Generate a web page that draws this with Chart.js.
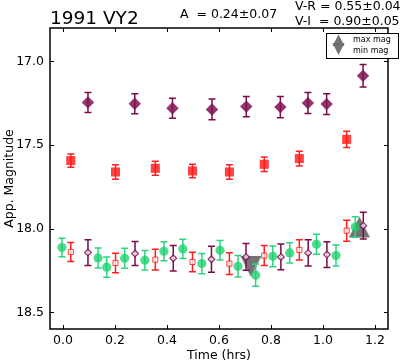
<!DOCTYPE html>
<html><head><meta charset="utf-8">
<script src="https://cdn.jsdelivr.net/npm/chart.js@4.4.0/dist/chart.umd.min.js"></script>
<style>html,body{margin:0;padding:0;background:#fff;overflow:hidden}#wrap{width:400px;height:362px;position:relative}</style>
</head><body><div id="wrap"><canvas id="c" width="400" height="362"></canvas></div>
<script>
const titleText = "1991 VY2";
const ampText = "A  = 0.24\u00b10.07";
const vrText = "V-R = 0.55\u00b10.04";
const viText = "V-I  = 0.90\u00b10.05";
const xLabel = "Time (hrs)";
const yLabel = "App. Magnitude";
const legendLabels = ["max mag", "min mag"];
const xTicks = [0.0, 0.2, 0.4, 0.6, 0.8, 1.0, 1.2];
const yTicks = [17.0, 17.5, 18.0, 18.5];

// I band (filled diamonds)
const iTime = [0.096, 0.276, 0.421, 0.573, 0.705, 0.836, 0.942, 1.014, 1.154];
const iMag  = [17.245, 17.253, 17.280, 17.287, 17.270, 17.273, 17.249, 17.255, 17.086];
const iErr  = [0.060, 0.060, 0.060, 0.062, 0.060, 0.063, 0.063, 0.062, 0.067];
// R band (filled squares)
const rTime = [0.030, 0.202, 0.355, 0.498, 0.640, 0.774, 0.909, 1.091];
const rMag  = [17.593, 17.661, 17.639, 17.655, 17.661, 17.615, 17.581, 17.466];
const rErr  = [0.040, 0.043, 0.042, 0.040, 0.043, 0.043, 0.044, 0.048];
// V band (green circles)
const vTime = [-0.004, 0.135, 0.168, 0.237, 0.315, 0.388, 0.461, 0.534, 0.604, 0.673, 0.741, 0.807, 0.872, 0.975, 1.050, 1.124];
const vMag  = [18.113, 18.175, 18.230, 18.177, 18.189, 18.135, 18.121, 18.209, 18.129, 18.225, 18.278, 18.165, 18.145, 18.093, 18.161, 17.990];
const vErr  = [0.055, 0.060, 0.060, 0.060, 0.058, 0.057, 0.057, 0.060, 0.058, 0.064, 0.067, 0.062, 0.061, 0.060, 0.063, 0.062];
// R shifted to V (open squares)
const rvMag = [18.139, 18.205, 18.185, 18.199, 18.209, 18.161, 18.127, 18.012];
const rvErr = [0.057, 0.058, 0.062, 0.058, 0.065, 0.060, 0.060, 0.063];
// I shifted to V (open diamonds)
const ivTime = [0.096, 0.277, 0.424, 0.571, 0.704, 0.838, 0.943, 1.015, 1.155];
const ivMag  = [18.143, 18.149, 18.177, 18.183, 18.169, 18.169, 18.145, 18.155, 17.982];
const ivErr  = [0.077, 0.072, 0.076, 0.078, 0.080, 0.077, 0.078, 0.077, 0.080];
// extremes
const maxTime = [1.140], maxMag = [17.990];
const minTime = [0.723], minMag = [18.226];

const FONT = "'DejaVu Sans', 'Liberation Sans', sans-serif";
const pts = (xs, ys) => xs.map((x, i) => ({x: x, y: ys[i]}));

function triCanvas(size, down, color) {
  const c = document.createElement('canvas');
  c.width = size + 2; c.height = size + 2;
  const g = c.getContext('2d');
  g.fillStyle = color;
  g.beginPath();
  if (!down) { g.moveTo(1, size + 1); g.lineTo(size / 2 + 1, 1); g.lineTo(size + 1, size + 1); }
  else { g.moveTo(1, 1); g.lineTo(size / 2 + 1, size + 1); g.lineTo(size + 1, 1); }
  g.closePath(); g.fill();
  return c;
}
const triGray = 'rgba(108,108,108,0.95)';
const upTri = triCanvas(21, false, triGray);
const downTri = triCanvas(21, true, triGray);

const purpleFill = 'rgba(128,18,82,0.85)', purpleLine = '#7a0c4a';
const redFill = 'rgba(255,25,25,0.82)', redLine = '#ff1f1f';
const greenFill = 'rgba(20,208,105,0.75)', greenLine = '#2fd47f';

const errorBars = {
  id: 'errorBars',
  beforeDatasetDraw(chart, args) {
    const ds = chart.data.datasets[args.index];
    if (!ds.errors) return;
    const xs = chart.scales.x, ys = chart.scales.y, ctx = chart.ctx;
    ctx.save();
    ctx.strokeStyle = ds.errColor; ctx.lineWidth = 1.5;
    ds.data.forEach((p, i) => {
      const px = xs.getPixelForValue(p.x);
      const y1 = ys.getPixelForValue(p.y - ds.errors[i]);
      const y2 = ys.getPixelForValue(p.y + ds.errors[i]);
      ctx.beginPath();
      ctx.moveTo(px, y1); ctx.lineTo(px, y2);
      ctx.moveTo(px - 3.5, y1); ctx.lineTo(px + 3.5, y1);
      ctx.moveTo(px - 3.5, y2); ctx.lineTo(px + 3.5, y2);
      ctx.stroke();
    });
    ctx.restore();
  }
};

const decor = {
  id: 'decor',
  afterDraw(chart) {
    const ctx = chart.ctx, a = chart.chartArea, xs = chart.scales.x, ys = chart.scales.y;
    ctx.save();
    ctx.strokeStyle = '#000'; ctx.lineWidth = 1.5;
    ctx.strokeRect(a.left, a.top, a.right - a.left, a.bottom - a.top);
    ctx.lineWidth = 1;
    ctx.beginPath();
    xTicks.forEach(v => {
      const px = Math.round(xs.getPixelForValue(v)) + 0.5;
      ctx.moveTo(px, a.bottom); ctx.lineTo(px, a.bottom - 4);
      ctx.moveTo(px, a.top); ctx.lineTo(px, a.top + 4);
    });
    yTicks.forEach(v => {
      const py = Math.round(ys.getPixelForValue(v)) + 0.5;
      ctx.moveTo(a.left, py); ctx.lineTo(a.left + 4, py);
      ctx.moveTo(a.right, py); ctx.lineTo(a.right - 4, py);
    });
    ctx.stroke();
    ctx.fillStyle = '#000';
    ctx.textBaseline = 'alphabetic';
    ctx.textAlign = 'left';
    ctx.font = '18.5px ' + FONT;
    ctx.fillText(titleText, 50, 23.5);
    ctx.font = '12.5px ' + FONT;
    ctx.fillText(ampText, 180, 18);
    ctx.fillText(vrText, 295, 10);
    ctx.fillText(viText, 295, 24.5);
    ctx.textAlign = 'center';
    ctx.fillText(xLabel, (a.left + a.right) / 2, 359);
    ctx.save();
    ctx.translate(12.5, (a.top + a.bottom) / 2);
    ctx.rotate(-Math.PI / 2);
    ctx.fillText(yLabel, 0, 0);
    ctx.restore();
    const lx = 326.5, ly = 33.5, lw = 72, lh = 25;
    ctx.fillStyle = '#fff';
    ctx.fillRect(lx, ly, lw, lh);
    ctx.strokeStyle = '#000'; ctx.lineWidth = 1;
    ctx.strokeRect(lx, ly, lw, lh);
    ctx.fillStyle = triGray;
    ctx.beginPath(); ctx.moveTo(332.5, 46); ctx.lineTo(338.5, 34.5); ctx.lineTo(344.5, 46); ctx.closePath(); ctx.fill();
    ctx.beginPath(); ctx.moveTo(332.5, 43); ctx.lineTo(338.5, 55); ctx.lineTo(344.5, 43); ctx.closePath(); ctx.fill();
    ctx.fillStyle = '#000';
    ctx.textAlign = 'left'; ctx.textBaseline = 'middle';
    ctx.font = '8px ' + FONT;
    ctx.fillText(legendLabels[0], 353, 40);
    ctx.fillText(legendLabels[1], 353, 51);
    ctx.restore();
  }
};

new Chart(document.getElementById('c'), {
  type: 'scatter',
  data: {
    datasets: [
      { label: 'I', data: pts(iTime, iMag), errors: iErr, errColor: purpleLine, order: 1,
        pointStyle: 'rectRot', pointRadius: 6.2, backgroundColor: purpleFill, borderColor: purpleFill, borderWidth: 0 },
      { label: 'R', data: pts(rTime, rMag), errors: rErr, errColor: redLine, order: 2,
        pointStyle: 'rect', pointRadius: 6.4, backgroundColor: redFill, borderColor: redFill, borderWidth: 0 },
      { label: 'I-V', data: pts(ivTime, ivMag), errors: ivErr, errColor: purpleLine, order: 3,
        pointStyle: 'rectRot', pointRadius: 3.3, backgroundColor: 'rgba(255,255,255,0.7)', borderColor: purpleFill, borderWidth: 1.3 },
      { label: 'R-V', data: pts(rTime, rvMag), errors: rvErr, errColor: redLine, order: 4,
        pointStyle: 'rect', pointRadius: 3.6, backgroundColor: 'rgba(255,255,255,0.7)', borderColor: redFill, borderWidth: 1 },
      { label: 'V', data: pts(vTime, vMag), errors: vErr, errColor: greenLine, order: 5,
        pointStyle: 'circle', pointRadius: 4.6, backgroundColor: greenFill, borderColor: greenFill, borderWidth: 0 },
      { label: 'max mag', data: pts(maxTime, maxMag), order: 6, pointStyle: upTri, pointRadius: 11 },
      { label: 'min mag', data: pts(minTime, minMag), order: 7, pointStyle: downTri, pointRadius: 11 }
    ]
  },
  options: {
    responsive: false,
    devicePixelRatio: 1,
    animation: false,
    events: [],
    layout: { padding: { top: 28, right: 1, left: 0, bottom: 0 } },
    plugins: { legend: { display: false }, tooltip: { enabled: false } },
    scales: {
      x: {
        type: 'linear', min: -0.05, max: 1.25,
        grid: { display: false, drawTicks: false }, border: { display: false },
        afterBuildTicks: s => { s.ticks = xTicks.map(v => ({ value: v })); },
        afterFit: s => { s.height = 33; },
        ticks: { color: '#000', padding: 4, font: { family: FONT, size: 12.5 }, callback: v => Number(v).toFixed(1) }
      },
      y: {
        type: 'linear', reverse: true, min: 16.8, max: 18.6,
        grid: { display: false, drawTicks: false }, border: { display: false },
        afterBuildTicks: s => { s.ticks = yTicks.map(v => ({ value: v })); },
        afterFit: s => { s.width = 50; },
        ticks: { color: '#000', padding: 6, font: { family: FONT, size: 12.5 }, callback: v => Number(v).toFixed(1) }
      }
    }
  },
  plugins: [errorBars, decor]
});
</script>
</body></html>
